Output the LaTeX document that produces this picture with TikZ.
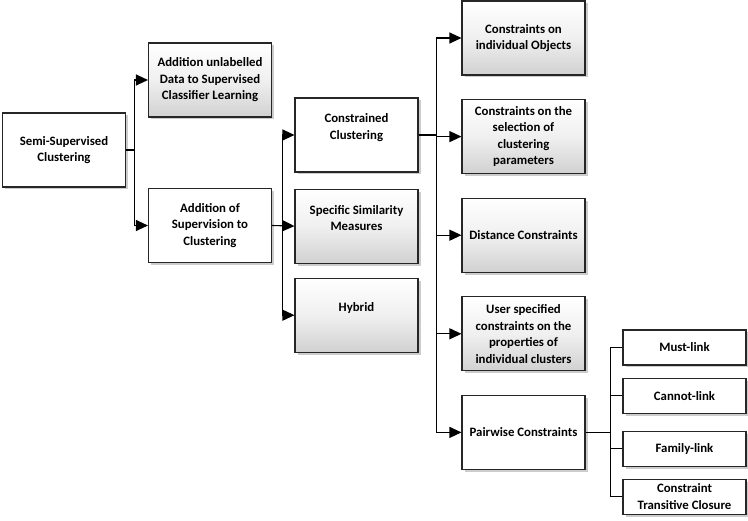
\documentclass[tikz,border=0pt]{standalone}
\usepackage{fontspec}
\setmainfont{Carlito}
\usepackage{tikz}
\usetikzlibrary{calc,shapes,positioning,shadows,arrows.meta}

\begin{document}
\begin{tikzpicture}[
    x=1pt, y=1pt,
    box/.style={rectangle, draw=black!85, line width=1.1pt, fill=white, minimum width=123pt, minimum height=74pt, inner sep=2pt, align=center, font=\bfseries\fontsize{12.8}{16.5}\selectfont, drop shadow={shadow xshift=2.5pt, shadow yshift=-2.5pt, fill=black!40}},
    gbox/.style={box, top color=white, bottom color=black!18, middle color=white!94!black},
    sbox/.style={box, minimum height=35pt},
    arrow/.style={-{Triangle[length=12pt, width=11pt]}, line width=1.1pt},
    link/.style={line width=1.1pt}
]
    \useasboundingbox (0,0) rectangle (748,-521);

    % first level
    \node[box] (semi) at (64,-150) {Semi-Supervised\\Clustering};
    \node[gbox] (addu) at (210,-80) {Addition unlabelled\\Data to Supervised\\Classifier Learning};
    \node[box] (adds) at (210,-225.5) {Addition of\\Supervision to\\Clustering};

    % second level
    \node[box] (cc) at (356.5,-135) {Constrained\\Clustering\\ \mbox{}};
    \node[gbox, below=16pt of cc] (ssm) {Specific Similarity\\Measures\\ \mbox{}};
    \node[gbox, below=14pt of ssm] (hyb) {Hybrid\\ \mbox{}};

    % constraints
    \node[gbox] (cobj) at (523.5,-38) {Constraints on\\individual Objects};
    \node[gbox, below=23.5pt of cobj] (csel) {Constraints on the\\selection of\\clustering\\parameters};
    \node[gbox, below=23.5pt of csel] (cdist) {Distance Constraints};
    \node[gbox, below=23.5pt of cdist] (cuser) {User specified\\constraints on the\\properties of\\individual clusters};
    \node[box, below=23.5pt of cuser] (cpair) {Pairwise Constraints};

    % pairwise
    \node[sbox] (must) at (684.5,-347.5) {Must-link};
    \node[sbox, below=12pt of must] (cannot) {Cannot-link};
    \node[sbox, below=17pt of cannot] (family) {Family-link};
    \node[sbox, below=12pt of family] (trans) {Constraint\\Transitive Closure};

    \coordinate (b1) at ($(semi.east)+(8,0)$);
    \coordinate (b2) at ($(adds.east)+(10,0)$);
    \coordinate (b3) at ($(cc.east)+(18,0)$);
    \coordinate (b4) at ($(cpair.east)+(25,0)$);

    \draw[link] (semi.east) -- (b1);
    \draw[arrow] (b1) |- (addu.west);
    \draw[arrow] (b1) |- (adds.west);

    \draw[arrow] (adds.east) -- (ssm.west);
    \draw[arrow] (b2) |- (cc.west);
    \draw[arrow] (b2) |- (hyb.west);

    \draw[link] (cc.east) -- (b3);
    \draw[arrow] (b3) |- (cobj.west);
    \draw[arrow] (b3) |- (csel.west);
    \draw[arrow] (b3) |- (cdist.west);
    \draw[arrow] (b3) |- (cuser.west);
    \draw[arrow] (b3) |- (cpair.west);

    \draw[link] (cpair.east) -- (b4);
    \draw[link] (b4) |- (must.west);
    \draw[link] (b4) |- (cannot.west);
    \draw[link] (b4) |- (family.west);
    \draw[link] (b4) |- (trans.west);
\end{tikzpicture}
\end{document}
